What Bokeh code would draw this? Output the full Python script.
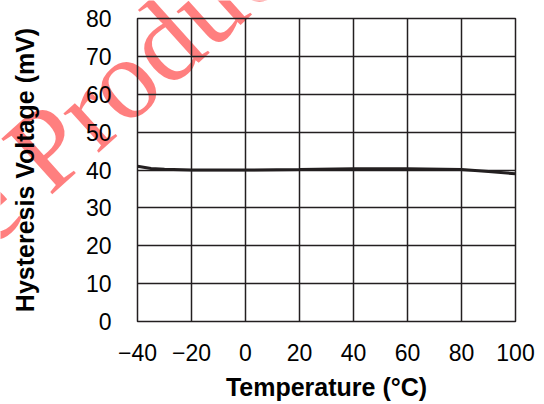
import math
from bokeh.plotting import figure
from bokeh.layouts import column
from bokeh.models import Range1d, FixedTicker
from bokeh.core.properties import value
from bokeh.embed import file_html
from bokeh.resources import INLINE

# Data
temperature = [-40, -35, -30, -20, 0, 20, 40, 60, 80, 90, 100]
hysteresis = [41.0, 40.4, 40.2, 40.0, 40.0, 40.1, 40.3, 40.3, 40.1, 39.6, 39.0]

x_ticks = [-40, -20, 0, 20, 40, 60, 80, 100]
x_tick_labels = ["\u221240", "\u221220", "0", "20", "40", "60", "80", "100"]
y_ticks = [0, 10, 20, 30, 40, 50, 60, 70, 80]

x_title = "Temperature (\u00b0C)"
y_title = "Hysteresis Voltage (mV)"
watermark = ["Pre Production"]

INK = "#231f20"
FONT = "Liberation Sans"
W, H = 544, 404

# background figure carrying the watermark (canvas-pixel coordinates)
bg = figure(width=W, height=H, output_backend="svg", toolbar_location=None,
            x_range=Range1d(0, W), y_range=Range1d(0, H),
            x_axis_type=None, y_axis_type=None,
            min_border_left=0, min_border_right=0, min_border_top=0, min_border_bottom=0)
bg.frame_align = False
bg.grid.visible = False
bg.outline_line_color = None
bg.background_fill_color = "white"
bg.border_fill_color = "white"
bg.text(x=[143], y=[H - 60], text=watermark, angle=math.radians(42),
        text_font=value("Liberation Serif"), text_font_size="115px",
        text_color="#ff0000", text_alpha=0.5, text_align="center",
        text_baseline="alphabetic")

p = figure(width=W, height=H, output_backend="svg", toolbar_location=None,
           x_range=Range1d(-40, 100), y_range=Range1d(0, 80),
           min_border_left=137, min_border_right=29, min_border_top=18, min_border_bottom=83)
p.frame_align = False
p.background_fill_alpha = 0
p.border_fill_alpha = 0
p.outline_line_color = INK
p.outline_line_width = 1.5
p.outline_line_alpha = 1

p.line(temperature, hysteresis, line_color=INK, line_width=3)

p.xaxis.ticker = FixedTicker(ticks=x_ticks)
p.xaxis.major_label_overrides = {t: l for t, l in zip(x_ticks, x_tick_labels)}
p.yaxis.ticker = FixedTicker(ticks=y_ticks)
p.xgrid.ticker = FixedTicker(ticks=x_ticks)
p.ygrid.ticker = FixedTicker(ticks=y_ticks)

for g in (p.xgrid, p.ygrid):
    g.grid_line_color = INK
    g.grid_line_width = 1.5
    g.grid_line_alpha = 1

for ax in (p.xaxis, p.yaxis):
    ax.axis_line_color = None
    ax.major_tick_line_color = None
    ax.minor_tick_line_color = None
    ax.major_label_text_font = FONT
    ax.major_label_text_font_size = "23px"
    ax.major_label_text_color = "black"
    ax.axis_label_text_font = FONT
    ax.axis_label_text_font_size = "25px"
    ax.axis_label_text_font_style = "bold"
    ax.axis_label_text_color = "black"

p.xaxis.axis_label = x_title
p.yaxis.axis_label = y_title
p.xaxis.major_label_standoff = 16
p.xaxis.axis_label_standoff = 9
p.yaxis.major_label_standoff = 20
p.yaxis.axis_label_standoff = 44

p.margin = (-H, 0, 0, 0)
layout = column(bg, p, spacing=0)

open("out.html", "w").write(file_html(layout, INLINE))
